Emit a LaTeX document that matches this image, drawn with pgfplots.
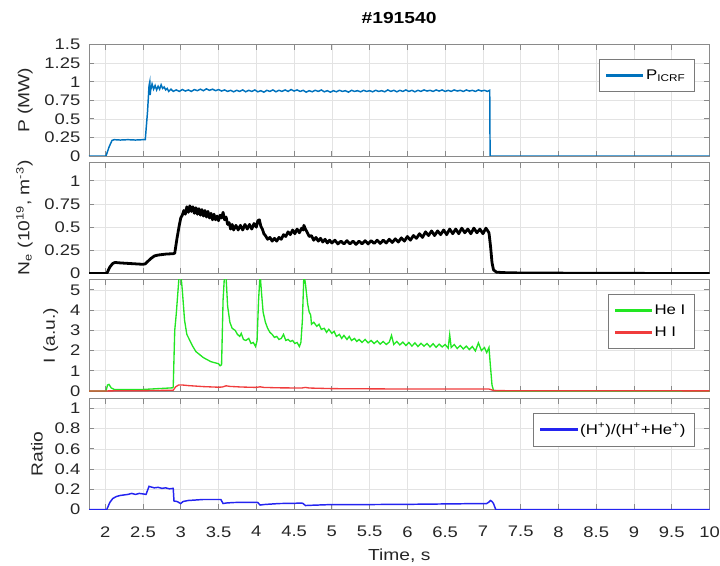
\documentclass[border=0pt]{standalone}
\usepackage{fontspec}
\setmainfont[FakeStretch=1.2]{Liberation Sans}
\usepackage{pgfplots}
\pgfplotsset{compat=1.18}
\definecolor{pblue}{HTML}{0072BD}
\definecolor{heg}{HTML}{22E622}
\definecolor{hred}{HTML}{F03C3C}
\definecolor{rblue}{HTML}{2424F0}
\definecolor{gridgray}{HTML}{E3E3E3}
\definecolor{axgray}{HTML}{8A8A8A}
\definecolor{txt}{HTML}{262626}
\definecolor{leggray}{HTML}{7A7A7A}

\pgfplotsset{
  panel/.style={scale only axis,width=465.4pt,height=83.5pt,
    xmin=1.785,xmax=10,
    xtick={2,2.5,3,3.5,4,4.5,5,5.5,6,6.5,7,7.5,8,8.5,9,9.5,10},
    grid=major,major grid style={draw=gridgray,line width=0.5pt},
    axis line style={draw=axgray,line width=0.6pt},
    tick style={draw=axgray,line width=0.6pt},
    tick align=inside,major tick length=4pt,
    tick label style={font=\fontsize{11.5}{13}\selectfont,text=txt},
    xticklabel style={yshift=-9pt},
    xlabel style={font=\fontsize{12}{14}\selectfont,text=txt,yshift=-2pt},
    ylabel style={font=\fontsize{12}{14}\selectfont,text=txt},
    ylabel shift=2pt,
    /pgf/number format/assume math mode=true,
    yticklabel style={/pgf/number format/fixed,xshift=-3pt},
    legend cell align=left,
    legend style={at={(1,1)},anchor=north east,xshift=-10.9pt,yshift=-10.9pt,
      draw=leggray,fill=white,font=\fontsize{10.5}{12}\selectfont,
      inner xsep=5pt,inner ysep=5.5pt,row sep=4pt},
  },
  legline/.style={legend image code/.code={%
    \fill[fill=#1] (0pt,-0.6pt) rectangle (27pt,0.6pt);}},
}

\begin{document}
\begin{tikzpicture}
\path[use as bounding box] (0pt,0pt) rectangle (540pt,-424.5pt);
\node[font=\fontsize{12}{14}\selectfont\bfseries,text=black] at (299.3pt,-13.5pt) {\#191540};

% panel 1: ICRF power
\begin{axis}[panel,at={(66.75pt,-33.5pt)},anchor=north west,
  ymin=0,ymax=1.5,ytick={0,0.25,0.5,0.75,1,1.25,1.5},
  xticklabels={},ylabel={P (MW)}]
\addplot[draw=pblue,line width=1.1pt,legline=pblue] coordinates {
(1.785,0)(2.01,0)(2.05,0.12)(2.09,0.21)(2.12,0.22)(2.2,0.215)(2.3,0.22)(2.4,0.215)(2.5,0.22)(2.53,0.22)
(2.56,0.6)(2.58,0.95)(2.59,1.0)(2.595,0.82)(2.60,0.88)(2.62,0.97)(2.64,0.90)(2.66,0.95)(2.68,0.89)(2.70,0.94)
(2.72,0.90)(2.74,0.96)(2.76,0.91)(2.78,0.93)(2.80,0.89)(2.82,0.91)(2.84,0.87)(2.87,0.90)(2.90,0.87)
(2.94,0.89)(2.98,0.87)(3.02,0.895)(3.06,0.875)(3.10,0.89)(3.14,0.87)(3.18,0.895)(3.22,0.88)(3.26,0.90)
(3.30,0.88)(3.34,0.905)(3.38,0.885)(3.42,0.90)(3.46,0.88)(3.50,0.895)(3.54,0.875)(3.58,0.89)(3.62,0.87)
(3.66,0.885)(3.70,0.865)(3.74,0.885)(3.78,0.87)(3.82,0.89)(3.86,0.865)(3.90,0.885)(3.94,0.87)(3.98,0.89)
(4.02,0.865)(4.06,0.88)(4.10,0.86)(4.14,0.885)(4.18,0.87)(4.22,0.89)(4.26,0.865)(4.30,0.885)(4.34,0.87)
(4.38,0.89)(4.42,0.87)(4.46,0.895)(4.50,0.875)(4.54,0.89)(4.58,0.87)(4.62,0.885)(4.66,0.86)(4.70,0.88)
(4.74,0.865)(4.78,0.885)(4.82,0.87)(4.86,0.89)(4.90,0.865)(4.94,0.88)(4.98,0.86)(5.02,0.88)(5.06,0.865)
(5.10,0.885)(5.14,0.87)(5.18,0.88)(5.22,0.86)(5.26,0.885)(5.30,0.87)(5.34,0.88)(5.38,0.865)(5.42,0.885)
(5.46,0.87)(5.50,0.88)(5.54,0.865)(5.58,0.885)(5.62,0.87)(5.66,0.88)(5.70,0.865)(5.74,0.89)(5.78,0.87)
(5.82,0.885)(5.86,0.865)(5.90,0.885)(5.94,0.87)(5.98,0.89)(6.02,0.87)(6.06,0.885)(6.10,0.865)(6.14,0.885)
(6.18,0.87)(6.22,0.89)(6.26,0.875)(6.30,0.885)(6.34,0.87)(6.38,0.89)(6.42,0.875)(6.46,0.89)(6.50,0.87)
(6.54,0.885)(6.58,0.87)(6.62,0.89)(6.66,0.875)(6.70,0.885)(6.74,0.87)(6.78,0.89)(6.82,0.875)(6.86,0.885)
(6.90,0.87)(6.94,0.89)(6.98,0.875)(7.02,0.885)(7.06,0.87)(7.09,0.885)(7.095,0)(10,0)};
\addlegendentry{P\textsubscript{ICRF}}
\end{axis}

% panel 2: density
\begin{axis}[panel,at={(66.75pt,-121.7pt)},anchor=north west,
  ymin=0,ymax=1.2,ytick={0,0.25,0.5,0.75,1},
  xticklabels={},ylabel={N\textsubscript{e} (10\textsuperscript{19}, m\textsuperscript{-3})}]
\addplot[draw=black,line width=2.1pt,line join=round] coordinates {
(1.785,0)(2.02,0)(2.06,0.07)(2.10,0.11)(2.13,0.12)(2.2,0.115)(2.3,0.11)(2.4,0.105)(2.5,0.10)(2.53,0.105)
(2.6,0.16)(2.65,0.19)(2.7,0.20)(2.8,0.21)(2.9,0.215)(2.92,0.22)(2.95,0.38)(2.98,0.52)(3.00,0.60)(3.02,0.63)
(3.04,0.68)(3.06,0.64)(3.08,0.72)(3.10,0.66)(3.12,0.73)(3.14,0.67)(3.16,0.72)(3.18,0.65)(3.20,0.71)(3.22,0.64)
(3.24,0.70)(3.26,0.63)(3.28,0.69)(3.30,0.62)(3.32,0.68)(3.34,0.61)(3.36,0.67)(3.38,0.60)(3.40,0.65)(3.42,0.58)
(3.44,0.64)(3.46,0.58)(3.48,0.62)(3.50,0.57)(3.52,0.63)(3.54,0.60)(3.56,0.66)(3.58,0.58)(3.60,0.61)(3.62,0.53)
(3.64,0.55)(3.66,0.48)(3.68,0.53)(3.70,0.47)(3.73,0.52)(3.76,0.47)(3.79,0.52)(3.82,0.47)(3.85,0.53)(3.88,0.48)
(3.91,0.53)(3.94,0.48)(3.97,0.54)(4.00,0.50)(4.02,0.57)(4.04,0.58)(4.06,0.51)(4.08,0.48)(4.10,0.43)(4.12,0.41)
(4.15,0.37)(4.18,0.39)(4.21,0.35)(4.24,0.38)(4.27,0.35)(4.30,0.39)(4.33,0.37)(4.36,0.42)(4.39,0.40)(4.42,0.45)
(4.45,0.42)(4.48,0.47)(4.51,0.43)(4.54,0.48)(4.57,0.44)(4.60,0.49)(4.62,0.47)(4.63,0.52)(4.65,0.48)(4.67,0.45)
(4.70,0.40)(4.73,0.41)(4.76,0.36)(4.79,0.39)(4.82,0.35)(4.85,0.38)(4.88,0.34)(4.91,0.37)(4.94,0.33)(4.97,0.36)
(5.00,0.33)(5.04,0.36)(5.08,0.32)(5.12,0.35)(5.16,0.32)(5.20,0.355)(5.24,0.32)(5.28,0.35)(5.32,0.315)(5.36,0.35)
(5.40,0.32)(5.44,0.355)(5.48,0.32)(5.52,0.355)(5.56,0.325)(5.60,0.36)(5.64,0.325)(5.68,0.36)(5.72,0.33)(5.76,0.37)
(5.80,0.335)(5.84,0.375)(5.88,0.34)(5.92,0.385)(5.96,0.35)(6.00,0.40)(6.04,0.36)(6.08,0.41)(6.12,0.38)(6.16,0.43)
(6.20,0.39)(6.24,0.45)(6.28,0.41)(6.32,0.46)(6.36,0.41)(6.40,0.46)(6.44,0.42)(6.48,0.47)(6.52,0.42)(6.56,0.48)
(6.60,0.43)(6.64,0.48)(6.68,0.43)(6.72,0.49)(6.76,0.44)(6.80,0.48)(6.84,0.43)(6.88,0.49)(6.92,0.44)(6.96,0.48)
(7.00,0.43)(7.04,0.49)(7.08,0.44)(7.10,0.30)(7.12,0.12)(7.14,0.04)(7.18,0.015)(7.3,0.01)(7.6,0.005)(8,0.005)(10,0)};
\end{axis}

% panel 3: line intensities
\begin{axis}[panel,at={(66.75pt,-209.8pt)},anchor=north west,
  ymin=0,ymax=5.5,ytick={0,1,2,3,4,5},
  xticklabels={},ylabel={I (a.u.)}]
\addplot[draw=heg,line width=1pt,legline=heg] coordinates {
(1.785,0)(2.01,0)(2.03,0.3)(2.05,0.33)(2.08,0.15)(2.12,0.08)(2.3,0.07)(2.5,0.08)(2.6,0.1)(2.7,0.12)(2.8,0.14)
(2.89,0.16)(2.9,0.2)(2.92,3.0)(2.94,3.8)(2.96,4.8)(2.98,5.8)(3.0,5.8)(3.02,5.0)(3.05,3.5)(3.08,2.8)(3.12,2.5)
(3.16,2.2)(3.2,1.95)(3.25,1.8)(3.3,1.65)(3.35,1.55)(3.4,1.45)(3.45,1.4)(3.5,1.35)(3.52,1.25)(3.54,1.3)
(3.56,4.5)(3.58,5.8)(3.60,5.6)(3.62,4.2)(3.65,3.4)(3.68,3.1)(3.72,3.0)(3.75,2.8)(3.78,2.7)(3.8,2.85)(3.83,2.55)
(3.86,2.5)(3.9,2.6)(3.93,2.35)(3.96,2.4)(3.99,2.2)(4.01,2.5)(4.03,4.5)(4.05,5.8)(4.07,4.8)(4.09,3.9)(4.12,3.4)
(4.15,3.1)(4.18,2.9)(4.21,2.8)(4.24,2.65)(4.27,2.7)(4.3,2.55)(4.33,2.6)(4.36,2.8)(4.39,2.5)(4.42,2.55)(4.45,2.45)
(4.48,2.5)(4.51,2.35)(4.54,2.4)(4.57,2.2)(4.59,2.4)(4.61,3.5)(4.63,5.8)(4.65,5.3)(4.68,4.3)(4.7,3.9)(4.72,3.75)
(4.73,3.3)(4.76,3.4)(4.8,3.2)(4.83,3.3)(4.86,3.05)(4.9,3.1)(4.93,2.9)(4.96,3.05)(5.0,2.85)(5.03,2.95)(5.06,2.7)
(5.1,2.8)(5.13,2.6)(5.16,2.75)(5.2,2.55)(5.23,2.7)(5.26,2.5)(5.3,2.6)(5.33,2.45)(5.36,2.55)(5.40,2.40)(5.44,2.55)
(5.48,2.38)(5.52,2.50)(5.56,2.35)(5.60,2.48)(5.64,2.32)(5.68,2.45)(5.72,2.30)(5.76,2.42)(5.79,2.75)(5.82,2.30)
(5.86,2.45)(5.90,2.28)(5.94,2.42)(5.98,2.25)(6.02,2.40)(6.06,2.22)(6.10,2.38)(6.14,2.20)(6.18,2.36)(6.22,2.22)
(6.26,2.35)(6.30,2.18)(6.34,2.34)(6.38,2.16)(6.42,2.32)(6.46,2.18)(6.50,2.30)(6.54,2.12)(6.56,2.78)(6.58,2.15)
(6.62,2.30)(6.66,2.10)(6.70,2.25)(6.74,2.08)(6.78,2.22)(6.82,2.05)(6.86,2.20)(6.90,1.98)(6.94,2.38)(6.98,2.00)
(7.02,2.15)(7.05,1.90)(7.08,2.15)(7.10,1.2)(7.12,0.3)(7.14,0.03)(7.2,0.01)(10,0.01)};
\addlegendentry{He I}
\addplot[draw=hred,line width=1pt,legline=hred] coordinates {
(1.785,0)(2.0,0)(2.05,0.01)(2.5,0.02)(2.9,0.04)(2.93,0.2)(2.97,0.3)(3.02,0.3)(3.1,0.27)(3.3,0.22)(3.5,0.19)
(3.55,0.2)(3.6,0.26)(3.65,0.23)(3.8,0.2)(4.0,0.18)(4.05,0.21)(4.1,0.18)(4.3,0.16)(4.6,0.15)(4.65,0.18)(4.7,0.15)
(5.0,0.12)(5.5,0.11)(6.0,0.1)(6.5,0.1)(7.0,0.1)(7.08,0.1)(7.15,0.02)(10,0.01)};
\addlegendentry{H I}
\end{axis}

% panel 4: ratio
\begin{axis}[panel,at={(66.75pt,-298.7pt)},anchor=north west,
  ymin=0,ymax=1.1,ytick={0,0.2,0.4,0.6,0.8,1},
  xlabel={Time, s},ylabel={Ratio}]
\addplot[draw=rblue,line width=1.1pt,legline=rblue] coordinates {
(1.785,0)(2.02,0)(2.06,0.07)(2.1,0.11)(2.15,0.13)(2.2,0.14)(2.25,0.145)(2.3,0.15)(2.35,0.16)(2.4,0.15)(2.45,0.16)
(2.5,0.155)(2.54,0.15)(2.56,0.19)(2.58,0.23)(2.6,0.225)(2.65,0.215)(2.7,0.22)(2.75,0.21)(2.8,0.215)(2.85,0.205)
(2.9,0.21)(2.91,0.085)(2.95,0.08)(3.0,0.06)(3.03,0.08)(3.1,0.09)(3.2,0.095)(3.3,0.1)(3.4,0.1)(3.5,0.1)(3.53,0.1)
(3.56,0.06)(3.6,0.065)(3.7,0.07)(3.85,0.072)(4.0,0.072)(4.02,0.07)(4.05,0.045)(4.1,0.05)(4.3,0.06)(4.5,0.062)
(4.6,0.065)(4.62,0.06)(4.65,0.04)(4.7,0.042)(5.0,0.05)(5.5,0.05)(6.0,0.052)(6.5,0.056)(7.0,0.06)(7.05,0.06)
(7.08,0.075)(7.1,0.09)(7.12,0.08)(7.14,0.06)(7.15,0.04)(7.17,0)(10,0)};
\addlegendentry{(H\textsuperscript{+})/(H\textsuperscript{+}+He\textsuperscript{+})}
\end{axis}
\end{tikzpicture}
\end{document}
